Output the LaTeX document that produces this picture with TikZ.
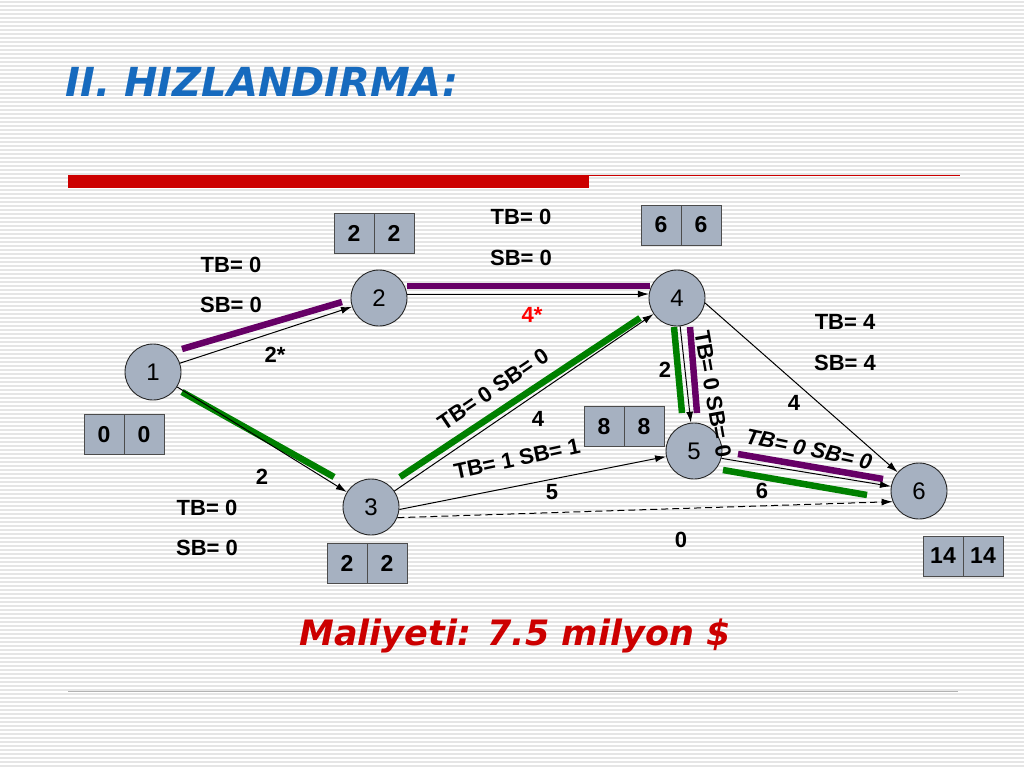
\documentclass[tikz,border=0pt]{standalone}
\usepackage{fontspec}
\setmainfont{Liberation Sans}
\newfontfamily\headfont{DejaVu Sans}
\usetikzlibrary{positioning,arrows.meta}
\definecolor{nodegray}{RGB}{166,177,193}
\definecolor{pathpurple}{RGB}{102,0,102}
\definecolor{pathgreen}{RGB}{0,128,0}
\definecolor{headblue}{RGB}{22,106,190}
\definecolor{barred}{RGB}{204,0,0}
\tikzset{
  event/.style={circle,draw=black!85,line width=0.9pt,fill=nodegray,minimum size=56pt,inner sep=0pt,font=\fontsize{24}{24}\selectfont},
  cell/.style={rectangle,draw=black!70,line width=0.9pt,fill=nodegray,minimum width=40pt,minimum height=40pt,inner sep=0pt,outer sep=0pt,font=\bfseries\fontsize{23}{23}\selectfont},
  act/.style={-{Latex[length=11pt,width=7pt]},line width=1pt},
  lbl/.style={font=\bfseries\fontsize{22}{22}\selectfont,inner sep=0pt},
  crit/.style={line width=6.5pt},
  stripe/.style={black!10,line width=1.3pt}
}
\begin{document}
\begin{tikzpicture}[x=1pt,y=-1pt]
  \useasboundingbox (0,0) rectangle (1024,768);
  \fill[white] (0,0) rectangle (1024,768);
  \foreach \y in {2,6,...,766}
  \draw[stripe] (0,\y) -- (1024,\y);
  % header
  \node[anchor=west,text=headblue,font=\headfont\bfseries\itshape\fontsize{40}{40}\selectfont] (title) at (62,82) {II. HIZLANDIRMA:};
  \fill[barred] (68,175) rectangle (589,188);
  \draw[barred,line width=1pt] (589,175.5) -- (960,175.5);
  \draw[gray!60,line width=1pt] (68,691) -- (958,691);
  % critical path bars
  \draw[crit,pathpurple] (182,349) -- (342,302);
  \draw[crit,pathpurple] (407,286) -- (650,286);
  \draw[crit,pathpurple] (690,327) -- (697,413);
  \draw[crit,pathpurple] (738,454) -- (883,479);
  \draw[crit,pathgreen] (182,392) -- (334,477);
  \draw[crit,pathgreen] (400,477) -- (640,318);
  \draw[crit,pathgreen] (674,327) -- (682,413);
  \draw[crit,pathgreen] (723,470) -- (867,495);
  % events
  \node[event] (n1) at (153,372) {1};
  \node[event] (n2) at (379,298) {2};
  \node[event] (n3) at (371,507) {3};
  \node[event] (n4) at (677,298) {4};
  \node[event] (n5) at (694,451) {5};
  \node[event] (n6) at (919,491) {6};
  % activities
  \draw[act] (n1) -- (n2);
  \draw[act] (n1) -- (n3);
  \draw[act] (n2.8) -- (n4.172);
  \draw[act] (n3) -- (n4);
  \draw[act] (n3.-5) -- (n5);
  \draw[act,dash pattern=on 7pt off 4pt] (n3.-22) -- (n6.202);
  \draw[act] (n4) -- (n5);
  \draw[act] (n4.-10) -- (n6);
  \draw[act] (n5.-15) -- (n6);
  % time boxes
  \node[cell] (b1a) at (104,434.5) {0};
  \node[cell,right=0pt of b1a] (b1b) {0};
  \node[cell] (b2a) at (354,233) {2};
  \node[cell,right=0pt of b2a] (b2b) {2};
  \node[cell] (b3a) at (347,563.5) {2};
  \node[cell,right=0pt of b3a] (b3b) {2};
  \node[cell] (b4a) at (661,225) {6};
  \node[cell,right=0pt of b4a] (b4b) {6};
  \node[cell] (b5a) at (604,426.5) {8};
  \node[cell,right=0pt of b5a] (b5b) {8};
  \node[cell] (b6a) at (943,556) {14};
  \node[cell,right=0pt of b6a] (b6b) {14};
  % labels
  \node[lbl] (tb12) at (231,265) {TB= 0};
  \node[lbl] (sb12) at (231,305) {SB= 0};
  \node[lbl] (d12) at (275,355) {2*};
  \node[lbl] (tb24) at (521,217) {TB= 0};
  \node[lbl] (sb24) at (521,258) {SB= 0};
  \node[lbl,text=red] (d24) at (532,315) {4*};
  \node[lbl] (tb13) at (207,508) {TB= 0};
  \node[lbl] (sb13) at (207,548) {SB= 0};
  \node[lbl] (d13) at (262,477) {2};
  \node[lbl,rotate=34] (f34) at (493,389) {TB= 0 SB= 0};
  \node[lbl] (d34) at (538,419) {4};
  \node[lbl,rotate=12] (f35) at (517,459) {TB= 1 SB= 1};
  \node[lbl] (d35) at (552,492) {5};
  \node[lbl] (d36) at (681,540) {0};
  \node[lbl,rotate=-80] (f45) at (713,394) {TB= 0 SB= 0};
  \node[lbl] (d45) at (665,370) {2};
  \node[lbl] (tb46) at (845,322) {TB= 4};
  \node[lbl] (sb46) at (845,363) {SB= 4};
  \node[lbl] (d46) at (794,403) {4};
  \node[lbl,rotate=-12,font=\bfseries\itshape\fontsize{22}{22}\selectfont] (f56) at (809,449) {TB= 0 SB= 0};
  \node[lbl] (d56) at (762,491) {6};
  % cost
  \node[anchor=west,text=barred,font=\headfont\bfseries\itshape\fontsize{35}{35}\selectfont] (cost) at (296,636) {Maliyeti: 7.5 milyon \$};
\end{tikzpicture}
\end{document}
